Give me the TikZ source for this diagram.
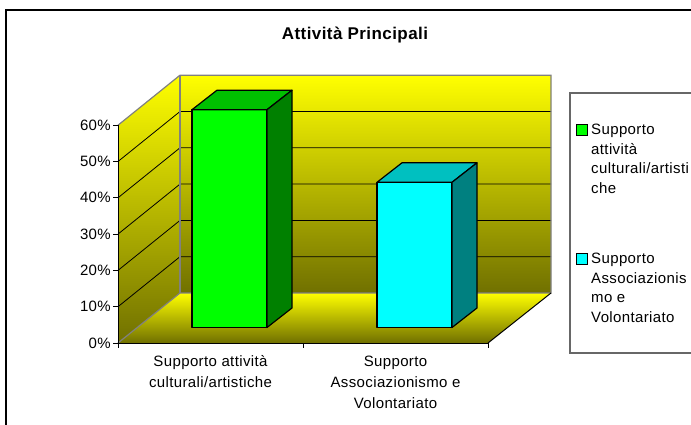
\documentclass[tikz,border=0pt]{standalone}
\usepackage{fontspec}
\setmainfont{Liberation Sans}[LetterSpace=2.5]
\definecolor{wallyellow}{RGB}{255,255,0}
\definecolor{wallolive}{RGB}{112,112,0}
\definecolor{edgegray}{RGB}{128,128,128}
\definecolor{greenfront}{RGB}{0,255,0}
\definecolor{greentop}{RGB}{0,192,0}
\definecolor{greenside}{RGB}{0,128,0}
\definecolor{cyanfront}{RGB}{0,255,255}
\definecolor{cyantop}{RGB}{0,192,192}
\definecolor{cyanside}{RGB}{0,128,128}
\tikzset{
  wall/.style={top color=wallyellow,bottom color=wallolive},
  walledge/.style={draw=edgegray,line width=1.2pt},
  gridline/.style={black,line width=0.8pt},
  axisline/.style={black,line width=1pt},
  barface/.style={draw=black,line width=1.2pt,line join=round},
  lab/.style={inner sep=0pt,font=\fontsize{15}{21}\selectfont},
  legkey/.style={draw=black,line width=1pt,minimum size=11pt,inner sep=0pt}
}
\begin{document}
\begin{tikzpicture}[x=1pt,y=-1pt]
				\useasboundingbox (0,0) rectangle (691,425);
				\draw[black,line width=1.5pt] (692,10) -- (6,10) -- (6,426);
				\node[font=\fontsize{17}{20}\selectfont\bfseries,inner sep=0pt] (title) at (355,35) {Attività Principali};
				% walls and floor
				\shade[wall] (180,75.2) -- (551,75.2) -- (551,293) -- (180,293) -- cycle;
				\shade[wall] (118,125.2) -- (180,75.2) -- (180,293) -- (118,343) -- cycle;
				\shade[wall] (118,343) -- (488,343) -- (551,293) -- (180,293) -- cycle;
				\foreach \k in {1,...,5}
					\draw[gridline] (118,{343-36.3*\k}) -- (180,{293-36.3*\k}) -- (551,{293-36.3*\k});
				\draw[walledge] (118,125.2) -- (180,75.2) -- (551,75.2) -- (551,293) -- (180,293) -- (118,343);
				\draw[walledge] (180,75.2) -- (180,293);
				\draw[axisline] (488,343) -- (551,293);
				% bars
				\filldraw[barface,fill=greenfront] (192,327.5) rectangle (267,109.7);
				\filldraw[barface,fill=greentop] (192,109.7) -- (217,90.2) -- (292,90.2) -- (267,109.7) -- cycle;
				\filldraw[barface,fill=greenside] (267,109.7) -- (292,90.2) -- (292,308) -- (267,327.5) -- cycle;
				\filldraw[barface,fill=cyanfront] (377,327.5) rectangle (452,182.3);
				\filldraw[barface,fill=cyantop] (377,182.3) -- (402,162.8) -- (477,162.8) -- (452,182.3) -- cycle;
				\filldraw[barface,fill=cyanside] (452,182.3) -- (477,162.8) -- (477,308) -- (452,327.5) -- cycle;
				% axes
				\draw[axisline] (118,125.2) -- (118,343) -- (488,343);
				\foreach \k/\t in {0/0,1/10,2/20,3/30,4/40,5/50,6/60}{
					\draw[axisline] (113,{343-36.3*\k}) -- (118,{343-36.3*\k});
					\node[lab,anchor=east] (ylab\k) at (111,{343-36.3*\k}) {\t\%};
				}
				\foreach \x in {118,303,488}
					\draw[axisline] (\x,343) -- (\x,348);
				\node[lab,align=center,anchor=north] (cat1) at (210.5,355.5) {Supporto attività\\culturali/artistiche};
				\node[lab,align=center,anchor=north] (cat2) at (395.5,355.5) {Supporto\\Associazionismo e\\Volontariato};
				% legend
				\draw[edgegray!80!black,line width=1.2pt] (692,93) -- (570,93) -- (570,353) -- (692,353);
				\node[legkey,fill=greenfront] (key1) at (582,130) {};
				\node[legkey,fill=cyanfront] (key2) at (582,259) {};
				\node[lab,align=left,anchor=north west,font=\fontsize{15}{19.5}\selectfont] (leg1) at (591,124) {Supporto\\attività\\culturali/artisti\\che};
				\node[lab,align=left,anchor=north west,font=\fontsize{15}{19.5}\selectfont] (leg2) at (591,253) {Supporto\\Associazionis\\mo e\\Volontariato};
		\end{tikzpicture}
\end{document}
